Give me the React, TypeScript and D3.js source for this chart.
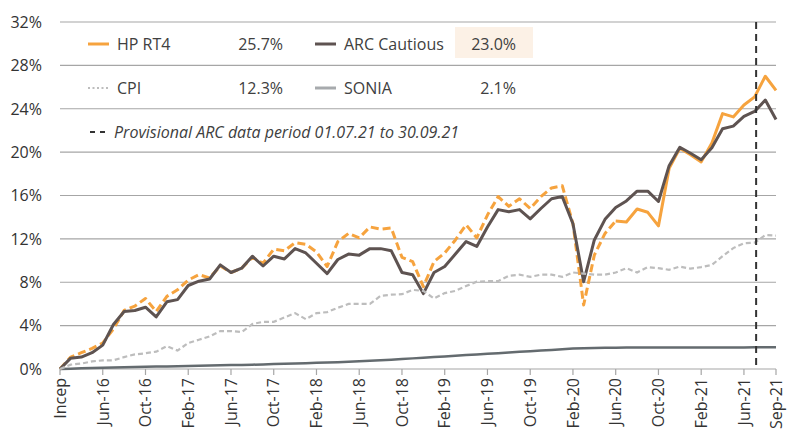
import React from "react";
import * as d3 from "d3";

const W = 792;
const H = 434;

// Monthly categories Feb-16 .. Sep-21 (index 0 = inception)
const startMonth = new Date(2016, 1, 1);
const endMonth = new Date(2021, 8, 2);
const fmt = d3.timeFormat("%b-%y");
const categories: string[] = d3.timeMonths(startMonth, endMonth).map((d, i) => (i === 0 ? "Incep" : fmt(d)));

const tickLabels = [
  "Incep", "Jun-16", "Oct-16", "Feb-17", "Jun-17", "Oct-17", "Feb-18", "Jun-18", "Oct-18",
  "Feb-19", "Jun-19", "Oct-19", "Feb-20", "Jun-20", "Oct-20", "Feb-21", "Jun-21", "Sep-21",
];
const yTicks = [0, 4, 8, 12, 16, 20, 24, 28, 32];

const hpRT4 = [
  0, 1.1, 1.5, 1.9, 2.4, 3.7, 5.4, 5.8, 6.5, 5.3,
  6.7, 7.3, 8.2, 8.7, 8.4, 9.5, 8.9, 9.3, 10.3, 9.75,
  11.05, 10.9, 11.65, 11.5, 10.8, 9.45, 11.75, 12.5, 12.1, 13.1,
  12.9, 13.0, 10.3, 9.9, 7.6, 9.9, 10.7, 11.9, 13.3, 12.1,
  14.2, 15.9, 15.0, 15.7, 14.8, 15.9, 16.7, 16.9, 13.4, 5.9,
  10.5, 12.5, 13.65, 13.55, 14.75, 14.45, 13.2, 18.5, 20.35, 19.75,
  19.1, 20.85, 23.55, 23.25, 24.35, 25.1, 27.0, 25.7,
];
const arcCautious = [
  0, 1.0, 1.1, 1.5, 2.2, 4.1, 5.3, 5.4, 5.7, 4.8,
  6.2, 6.4, 7.7, 8.1, 8.3, 9.6, 8.9, 9.3, 10.4, 9.5,
  10.4, 10.15, 11.1, 10.7, 9.75, 8.8, 10.1, 10.6, 10.5, 11.1,
  11.1, 10.9, 8.9, 8.7, 6.95, 8.9, 9.45, 10.6, 11.75, 11.3,
  13.1, 14.7, 14.5, 14.7, 13.85, 14.8, 15.7, 15.9, 13.4, 8.05,
  11.9, 13.8, 14.9, 15.5, 16.4, 16.4, 15.45, 18.75, 20.45, 19.9,
  19.3, 20.4, 22.15, 22.4, 23.3, 23.75, 24.8, 23.0,
];
const cpi = [
  0, 0.4, 0.5, 0.7, 0.8, 0.8, 1.1, 1.35, 1.45, 1.6,
  2.1, 1.7, 2.4, 2.7, 3.0, 3.5, 3.5, 3.4, 4.15, 4.35,
  4.35, 4.75, 5.15, 4.6, 5.15, 5.25, 5.65, 6.0, 6.0, 6.0,
  6.75, 6.85, 6.9, 7.3, 7.2, 6.5, 7.0, 7.2, 7.65, 8.05,
  8.1, 8.1, 8.6, 8.7, 8.5, 8.7, 8.7, 8.5, 8.9, 8.8,
  8.7, 8.7, 8.9, 9.3, 8.9, 9.4, 9.3, 9.15, 9.45, 9.25,
  9.4, 9.6, 10.4, 11.15, 11.6, 11.65, 12.35, 12.3,
];
const sonia = [
  0, 0.03, 0.06, 0.09, 0.12, 0.14, 0.16, 0.18, 0.2, 0.22,
  0.24, 0.26, 0.28, 0.3, 0.32, 0.34, 0.36, 0.38, 0.4, 0.42,
  0.45, 0.48, 0.51, 0.54, 0.57, 0.6, 0.63, 0.67, 0.71, 0.76,
  0.81, 0.86, 0.92, 0.98, 1.04, 1.1, 1.16, 1.22, 1.28, 1.34,
  1.4, 1.46, 1.52, 1.58, 1.64, 1.7, 1.76, 1.82, 1.88, 1.92,
  1.94, 1.96, 1.97, 1.98, 1.98, 1.98, 1.98, 1.98, 1.98, 1.98,
  1.99, 1.99, 1.99, 1.99, 1.99, 2.0, 2.0, 2.0,
];

const hpDashedEnd = categories.indexOf("Jun-20");
const provisionalStart = categories.indexOf("Jul-21");

const legendRows = [
  [
    { name: "HP RT4", value: "25.7%", kind: "orange" },
    { name: "ARC Cautious", value: "23.0%", kind: "arc" },
  ],
  [
    { name: "CPI", value: "12.3%", kind: "cpi" },
    { name: "SONIA", value: "2.1%", kind: "sonia" },
  ],
];
const provisionalNote = "Provisional ARC data period 01.07.21 to 30.09.21";

const COLORS = {
  orange: "#F6A33E",
  arc: "#5E5351",
  cpi: "#BDBDBD",
  sonia: "#646B6F",
  soniaLegend: "#A7AAAD",
  grid: "#A6A6A6",
  text: "#404040",
};

const FONT = "'Open Sans', 'Noto Sans', sans-serif";

export default function App() {
  const left = 60, right = 776, top = 22, bottom = 369;
  const x = d3.scaleLinear().domain([0, categories.length - 1]).range([left, right]);
  const y = d3.scaleLinear().domain([0, 32]).range([bottom, top]);

  const line = d3
    .line<[number, number]>()
    .x((d) => x(d[0]))
    .y((d) => y(d[1]));
  const pts = (arr: number[], from = 0, to = arr.length - 1) =>
    arr.map((v, i) => [i, v] as [number, number]).filter((d) => d[0] >= from && d[0] <= to);

  const vx = x(provisionalStart) + 1.5;

  const colName = [117, 344];
  const colSample = [88, 315];
  const colValue = [283, 516];
  const rowY = [44, 88];

  return (
    <svg
      width={W}
      height={H}
      style={{ position: "absolute", left: 0, top: 0, background: "#fff" }}
      fontFamily={FONT}
    >
      {/* gridlines */}
      {yTicks.map((t) => (
        <line key={t} x1={left} x2={right} y1={y(t)} y2={y(t)} stroke={COLORS.grid} strokeWidth={1.2} />
      ))}
      {/* y labels */}
      {yTicks.map((t) => (
        <text key={"yl" + t} x={42} y={y(t)} dy="0.36em" textAnchor="end" fontSize={16} fill="#333">
          {t}%
        </text>
      ))}
      {/* x ticks and labels */}
      {tickLabels.map((lab) => {
        const i = categories.indexOf(lab);
        const xx = x(i);
        return (
          <g key={lab}>
            <line x1={xx} x2={xx} y1={bottom} y2={bottom + 6} stroke={COLORS.grid} strokeWidth={1.2} />
            <text
              transform={`translate(${xx},${bottom + 9}) rotate(-90)`}
              textAnchor="end"
              dy="0.36em"
              fontSize={16}
              fill="#333"
            >
              {lab}
            </text>
          </g>
        );
      })}

      {/* legend highlight box */}
      <rect x={455} y={27} width={78} height={31} fill="#FCF1E6" />

      {/* series */}
      <path d={line(pts(sonia)) || ""} fill="none" stroke={COLORS.sonia} strokeWidth={2.5} />
      <path
        d={line(pts(hpRT4, 0, hpDashedEnd)) || ""}
        fill="none"
        stroke={COLORS.orange}
        strokeWidth={3}
        strokeDasharray="8,4"
        strokeLinejoin="round"
      />
      <path
        d={line(pts(hpRT4, hpDashedEnd)) || ""}
        fill="none"
        stroke={COLORS.orange}
        strokeWidth={3}
        strokeLinejoin="round"
      />
      <path d={line(pts(arcCautious)) || ""} fill="none" stroke={COLORS.arc} strokeWidth={3} strokeLinejoin="round" />
      <path
        d={line(pts(cpi)) || ""}
        fill="none"
        stroke={COLORS.cpi}
        strokeWidth={2.2}
        strokeDasharray="5,3"
      />

      {/* provisional period marker */}
      <line x1={vx} x2={vx} y1={top} y2={bottom} stroke="#333" strokeWidth={2} strokeDasharray="7,5" />

      {/* legend */}
      {legendRows.map((row, r) =>
        row.map((item, c) => {
          const ly = rowY[r];
          const sx = colSample[c];
          let sample;
          if (item.kind === "cpi") {
            sample = (
              <line x1={sx} x2={sx + 20} y1={ly} y2={ly} stroke={COLORS.cpi} strokeWidth={2} strokeDasharray="2,2.5" />
            );
          } else {
            const col =
              item.kind === "orange" ? COLORS.orange : item.kind === "arc" ? COLORS.arc : COLORS.soniaLegend;
            sample = <line x1={sx} x2={sx + 21} y1={ly} y2={ly} stroke={col} strokeWidth={3} />;
          }
          return (
            <g key={item.name}>
              {sample}
              <text x={colName[c]} y={ly} dy="0.36em" fontSize={16} fill={COLORS.text}>
                {item.name}
              </text>
              <text x={colValue[c]} y={ly} dy="0.36em" fontSize={16} fill={COLORS.text} textAnchor="end">
                {item.value}
              </text>
            </g>
          );
        })
      )}
      <line x1={90} x2={107} y1={132} y2={132} stroke="#333" strokeWidth={2} strokeDasharray="5,5" />
      <text x={114} y={132} dy="0.36em" fontSize={16} fontStyle="italic" fill={COLORS.text}>
        {provisionalNote}
      </text>
    </svg>
  );
}
